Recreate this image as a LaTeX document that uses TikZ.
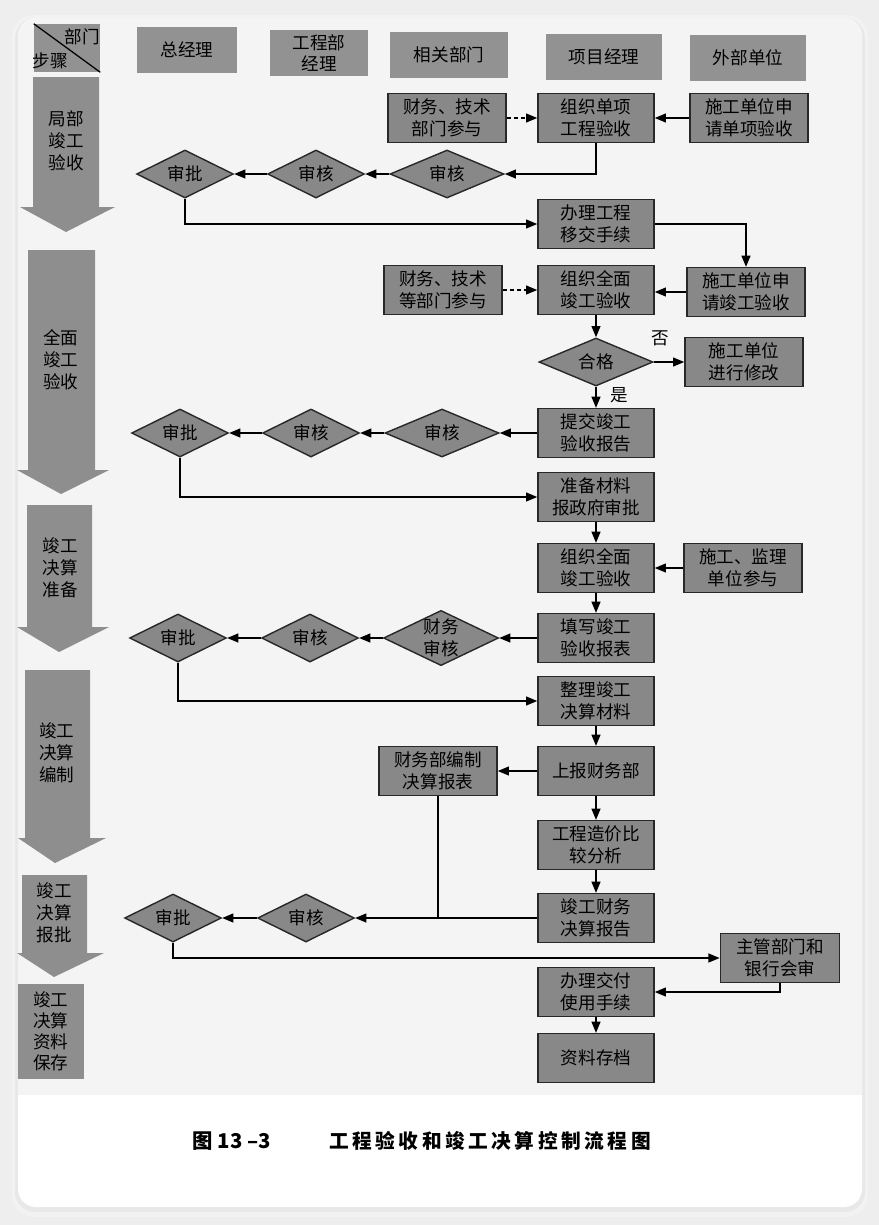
\documentclass[tikz,border=0pt]{standalone}
\usepackage{fontspec}
\setmainfont{Noto Sans CJK SC}
\newfontfamily\capfont{Noto Sans CJK SC}[LetterSpace=18]
\usetikzlibrary{arrows.meta,shapes.geometric}
\definecolor{pagebg}{RGB}{238,238,238}
\definecolor{scanbg}{RGB}{244,244,244}
\definecolor{boxfill}{RGB}{136,136,136}
\definecolor{hdrfill}{RGB}{146,146,146}
\definecolor{stagefill}{RGB}{142,142,142}
\definecolor{boxline}{RGB}{40,40,40}
\tikzset{
  % 表头
  hdrbox/.style   = {fill=hdrfill, minimum height=1.17cm, inner sep=1pt, align=center,
                     font=\fontsize{12.5}{15}\selectfont},
  % 流程框
  procbox/.style  = {draw=boxline, line width=1pt, fill=boxfill, minimum width=2.9cm,
                     minimum height=1.22cm, inner sep=1pt, align=center,
                     font=\fontsize{12.5}{15.5}\selectfont},
  % 判断框
  chkdia/.style   = {diamond, draw=boxline, line width=1pt, fill=boxfill, aspect=2,
                     inner sep=0pt, minimum width=2.42cm, minimum height=1.2cm, align=center,
                     font=\fontsize{12.5}{15.5}\selectfont},
  bigdia/.style   = {chkdia, minimum width=2.85cm},
  % 阶段箭头
  stagetxt/.style = {align=center, font=\fontsize{12.5}{15.6}\selectfont},
  % 连线
  flow/.style     = {-{Triangle[length=2.8mm,width=2.2mm]}, line width=1.2pt},
  flowdash/.style = {flow, densely dashed},
  plainline/.style= {line width=1.2pt},
  lab/.style      = {font=\fontsize{12.5}{15}\selectfont, inner sep=1pt},
}
\begin{document}
\begin{tikzpicture}[x=0.025cm, y=-0.025cm]
  \useasboundingbox (0,0) rectangle (879,1225);
  % 背景与卡片
  \fill[pagebg] (0,0) rectangle (879,1225);
  \fill[black!5, rounded corners=0.55cm] (12,15) rectangle (868,1217);
  \fill[black!9, rounded corners=0.5cm] (15,18) rectangle (865,1212);
  \fill[white, rounded corners=0.45cm] (18,18) rectangle (862,1207);
  \begin{scope}
    \clip[rounded corners=0.45cm] (18,18) rectangle (862,1207);
    \fill[scanbg] (18,18) rectangle (862,1095);
  \end{scope}

  % 表头
  \node[hdrbox, minimum width=1.65cm, minimum height=1.2cm] (corner) at (67,48) {};
  \draw[line width=0.9pt] (corner.north west) -- (corner.south east);
  \node[lab] (cornerDept) at (82,37) {部门};
  \node[lab] (cornerStep) at (50,61) {步骤};
  \node[hdrbox, minimum width=2.5cm]  (hZJL)  at (187,50) {总经理};
  \node[hdrbox, minimum width=2.45cm] (hGCB)  at (319,53) {工程部\\经理};
  \node[hdrbox, minimum width=2.95cm] (hXGBM) at (449,55) {相关部门};
  \node[hdrbox, minimum width=2.9cm]  (hXMJL) at (604,57) {项目经理};
  \node[hdrbox, minimum width=2.9cm]  (hWBDW) at (748,58) {外部单位};

  % 阶段箭头
  \fill[stagefill] (33,77) -- (99,77) -- (99,207) -- (115,207) -- (66,232) -- (20,207) -- (33,207) -- cycle;
  \fill[stagefill] (28,250) -- (95,250) -- (95,470) -- (109,470) -- (61,494) -- (17,470) -- (28,470) -- cycle;
  \fill[stagefill] (27,505) -- (92,505) -- (92,627) -- (109,627) -- (59,652) -- (17,627) -- (27,627) -- cycle;
  \fill[stagefill] (25,670) -- (90,670) -- (90,838) -- (106,838) -- (55,863) -- (18,838) -- (25,838) -- cycle;
  \fill[stagefill] (22,875) -- (87,875) -- (87,953) -- (104,953) -- (54,977) -- (17,953) -- (22,953) -- cycle;
  \fill[stagefill] (18,984) rectangle (84,1079);
  \node[stagetxt] (stgA) at (66,141)  {局部\\竣工\\验收};
  \node[stagetxt] (stgB) at (61,360)  {全面\\竣工\\验收};
  \node[stagetxt] (stgC) at (60,568)  {竣工\\决算\\准备};
  \node[stagetxt] (stgD) at (57,753)  {竣工\\决算\\编制};
  \node[stagetxt] (stgE) at (54,913)  {竣工\\决算\\报批};
  \node[stagetxt, font=\fontsize{12.5}{15}\selectfont] (stgF) at (51,1031) {竣工\\决算\\资料\\保存};

  % 局部竣工验收
  \node[procbox, minimum width=2.95cm] (cwjsA) at (447,118) {财务、技术\\部门参与};
  \node[procbox] (ysgzys) at (596,118) {组织单项\\工程验收};
  \node[procbox, minimum width=2.95cm] (sqdx) at (749,118) {施工单位申\\请单项验收};
  \node[chkdia] (spA)  at (185,174) {审批};
  \node[chkdia] (shAa) at (316,174) {审核};
  \node[bigdia] (shAb) at (447,174) {审核};
  \node[procbox] (yjsx) at (596,224) {办理工程\\移交手续};
  \draw[flowdash] (cwjsA) -- (ysgzys);
  \draw[flow] (sqdx) -- (ysgzys);
  \draw[flow] (ysgzys.south) |- (shAb.east);
  \draw[flow] (shAb) -- (shAa);
  \draw[flow] (shAa) -- (spA);
  \draw[flow] (spA.south) |- (yjsx.west);

  % 全面竣工验收
  \node[procbox, minimum width=2.95cm] (cwjsB) at (443,290) {财务、技术\\等部门参与};
  \node[procbox] (qmysA) at (596,290) {组织全面\\竣工验收};
  \node[procbox, minimum width=2.95cm] (sqjg) at (746,292) {施工单位申\\请竣工验收};
  \node[bigdia, aspect=2.3] (hege) at (596,362) {合格};
  \node[procbox, minimum width=2.95cm] (xgai) at (744,362) {施工单位\\进行修改};
  \node[lab] (lblNo)  at (660,338) {否};
  \node[lab] (lblYes) at (619,395) {是};
  \node[chkdia] (spB)  at (180,433) {审批};
  \node[chkdia] (shBa) at (311,433) {审核};
  \node[bigdia] (shBb) at (442,433) {审核};
  \node[procbox] (tjbg) at (596,433) {提交竣工\\验收报告};
  \node[procbox] (zbcl) at (596,497) {准备材料\\报政府审批};
  \draw[flow] (yjsx.east) -| (sqjg.north);
  \draw[flowdash] (cwjsB) -- (qmysA);
  \draw[flow] (sqjg.west) -- (sqjg.west -| qmysA.east);
  \draw[flow] (qmysA) -- (hege);
  \draw[flow] (hege) -- (xgai);
  \draw[flow] (hege) -- (tjbg);
  \draw[flow] (tjbg) -- (shBb);
  \draw[flow] (shBb) -- (shBa);
  \draw[flow] (shBa) -- (spB);
  \draw[flow] (spB.south) |- (zbcl.west);

  % 竣工决算准备
  \node[procbox] (qmysB) at (596,568) {组织全面\\竣工验收};
  \node[procbox, minimum width=2.95cm] (jlcy) at (743,568) {施工、监理\\单位参与};
  \node[chkdia] (spC)  at (178,638) {审批};
  \node[chkdia] (shCa) at (310,638) {审核};
  \node[bigdia, aspect=2.1, minimum height=1.38cm] (cwsh) at (441,638) {财务\\审核};
  \node[procbox] (txbb) at (596,638) {填写竣工\\验收报表};
  \node[procbox] (zljs) at (596,701) {整理竣工\\决算材料};
  \draw[flow] (zbcl) -- (qmysB);
  \draw[flow] (jlcy) -- (qmysB);
  \draw[flow] (qmysB) -- (txbb);
  \draw[flow] (txbb) -- (cwsh);
  \draw[flow] (cwsh) -- (shCa);
  \draw[flow] (shCa) -- (spC);
  \draw[flow] (spC.south) |- (zljs.west);

  % 竣工决算编制
  \node[procbox, minimum width=2.95cm] (cwbz) at (438,771) {财务部编制\\决算报表};
  \node[procbox] (sbcw) at (596,771) {上报财务部};
  \node[procbox] (zjfx) at (596,845) {工程造价比\\较分析};
  \draw[flow] (zljs) -- (sbcw);
  \draw[flow] (sbcw) -- (cwbz);
  \draw[flow] (sbcw) -- (zjfx);

  % 竣工决算报批
  \node[chkdia] (spD) at (173,918) {审批};
  \node[chkdia] (shD) at (306,918) {审核};
  \node[procbox] (jsbg) at (596,918) {竣工财务\\决算报告};
  \node[procbox, minimum width=2.98cm] (zgsh) at (780,958) {主管部门和\\银行会审};
  \draw[flow] (zjfx) -- (jsbg);
  \draw[flow] (jsbg) -- (shD);
  \draw[plainline] (cwbz.south) -- (cwbz.south |- shD.east);
  \draw[flow] (shD) -- (spD);
  \draw[flow] (spD.south) |- (zgsh.west);

  % 竣工决算资料保存
  \node[procbox] (jfsy) at (596,992) {办理交付\\使用手续};
  \node[procbox] (zlcd) at (596,1058) {资料存档};
  \draw[flow] (zgsh.south) |- (jfsy.east);
  \draw[flow] (jfsy) -- (zlcd);

  % 图题
  \node[font=\bfseries\fontsize{14.5}{16}\selectfont] (capNum) at (232,1141) {图 13 –3};
  \node[font=\capfont\bfseries\fontsize{14}{16}\selectfont] (capTitle) at (490,1141) {工程验收和竣工决算控制流程图};
\end{tikzpicture}
\end{document}
